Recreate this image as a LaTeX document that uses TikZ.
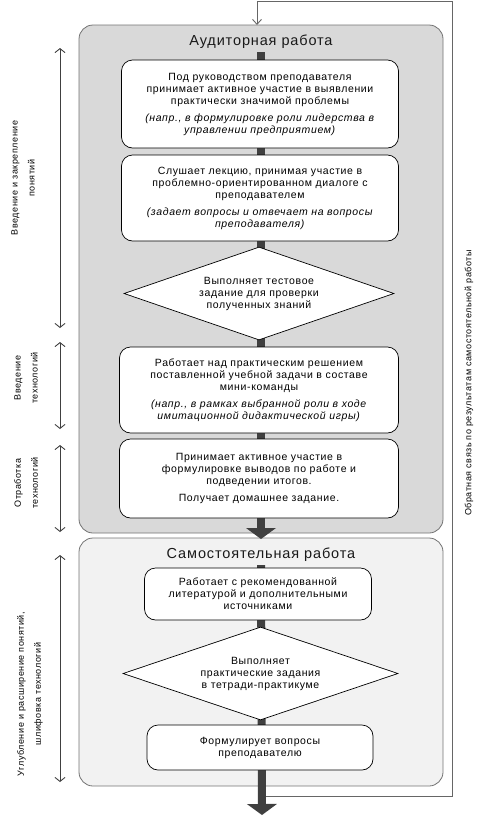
\documentclass[tikz,border=0pt]{standalone}
\usepackage{fontspec}
\setmainfont{Liberation Sans}[LetterSpace=6]
\usetikzlibrary{arrows.meta, shapes.geometric, backgrounds, positioning}

\begin{document}
\begin{tikzpicture}[
    x=1pt, y=-1pt, % pixel-like units, y grows downwards
    panelA/.style={draw=black!55, fill=black!15, rounded corners=14pt, line width=0.8pt},
    panelB/.style={draw=black!55, fill=black!5, rounded corners=14pt, line width=0.8pt},
    paneltitle/.style={font=\fontsize{14.5}{16}\selectfont, text=black!90, inner sep=3pt},
    stepbox/.style={draw=black, fill=white, rounded corners=11pt, line width=0.7pt,
        align=center, font=\fontsize{10.5}{12}\selectfont, inner sep=2pt},
    testbox/.style={diamond, draw=black, fill=white, line width=0.7pt, aspect=2.9,
        inner sep=0pt, align=center, font=\fontsize{10.5}{12}\selectfont},
    flow/.style={line width=8pt, draw=black!75,
        -{Triangle[length=11pt, width=30pt, line width=0pt]}},
    span/.style={black!75, line width=0.9pt, {Straight Barb[length=4pt, width=10pt]}-{Straight Barb[length=4pt, width=10pt]}},
    sidelabel/.style={rotate=90, align=center, font=\fontsize{9}{11}\selectfont},
    feedback/.style={black!60, line width=0.9pt, -{Straight Barb[length=5pt, width=9pt]}}
]

% Bounding box of the whole picture
\useasboundingbox (0,0) rectangle (480,817);

% Main axis
\def\cx{261}

% Classroom work
\node[paneltitle] (title1) at (\cx,42) {Аудиторная работа};
\node[stepbox, minimum width=277pt, minimum height=88pt] (lead) at (260,104)
    {Под руководством преподавателя\\принимает активное участие в выявлении\\практически значимой проблемы\\[5pt]
     \textit{(напр., в формулировке роли лидерства в}\\\textit{управлении предприятием)}};
\node[stepbox, minimum width=277pt, minimum height=86pt] (lecture) at (260,198)
    {Слушает лекцию, принимая участие в\\проблемно-ориентированном диалоге с\\преподавателем\\[5pt]
     \textit{(задает вопросы и отвечает на вопросы}\\\textit{преподавателя)}};
\node[testbox, minimum width=270pt, minimum height=93pt] (test) at (259,293.5)
    {Выполняет тестовое\\задание для проверки\\полученных знаний};
\node[stepbox, minimum width=279pt, minimum height=86pt] (task) at (259,390)
    {Работает над практическим решением\\поставленной учебной задачи в составе\\мини-команды\\[5pt]
     \textit{(напр., в рамках выбранной роли в ходе}\\\textit{имитационной дидактической игры)}};
\node[stepbox, minimum width=279pt, minimum height=79pt] (summary) at (259,478.5)
    {Принимает активное участие в\\формулировке выводов по работе и\\подведении итогов.\\[5pt]
     Получает домашнее задание.};

% Independent work
\node[paneltitle] (title2) at (\cx,555) {Самостоятельная работа};
\node[stepbox, minimum width=227pt, minimum height=52pt] (reading) at (258,594)
    {Работает с рекомендованной\\литературой и дополнительными\\источниками};
\node[testbox, minimum width=275pt, minimum height=93pt] (practice) at (260.5,673.5)
    {Выполняет\\практические задания\\в тетради-практикуме};
\node[stepbox, minimum width=226pt, minimum height=45pt] (questions) at (260,747.5)
    {Формулирует вопросы\\преподавателю};

% Flow tips and feedback corners
\coordinate (tip1) at (\cx,539);
\coordinate (tip2) at (262,815);
\coordinate (fbstart) at (262,796);
\coordinate (fbend) at (257,25);

\begin{scope}[on background layer]
    % Panels
    \node[panelA, minimum width=364pt, minimum height=508pt] (aud) at (\cx,279) {};
    \node[panelB, minimum width=364pt, minimum height=248pt] (self) at (\cx,662) {};
    % Feedback loop
    \draw[feedback] (fbstart) -| (452,1) -| (fbend);
    % Thick flow arrows
    \draw[flow] (title1.south) -- (tip1);
    \draw[flow] (title2.south) -- (tip2);
\end{scope}

% Side spans
\coordinate (s1a) at (60,48);  \coordinate (s1b) at (60,328);
\coordinate (s2a) at (60,342); \coordinate (s2b) at (60,429);
\coordinate (s3a) at (60,445); \coordinate (s3b) at (60,532);
\coordinate (s4a) at (60,555); \coordinate (s4b) at (60,782);
\draw[span] (s1a) -- (s1b);
\draw[span] (s2a) -- (s2b);
\draw[span] (s3a) -- (s3b);
\draw[span] (s4a) -- (s4b);

% Side labels
\node[sidelabel] (lab1) at (23,178) {Введение и закрепление\\[6pt]понятий};
\node[sidelabel] (lab2) at (26,378) {Введение\\[6pt]технологий};
\node[sidelabel] (lab3) at (26,483) {Отработка\\[6pt]технологий};
\node[sidelabel] (lab4) at (30,694) {Углубление и расширение понятий,\\[6pt]шлифовка технологий};
\node[sidelabel] (labfb) at (469,383) {Обратная связь по результатам самостоятельной работы};

\end{tikzpicture}
\end{document}
